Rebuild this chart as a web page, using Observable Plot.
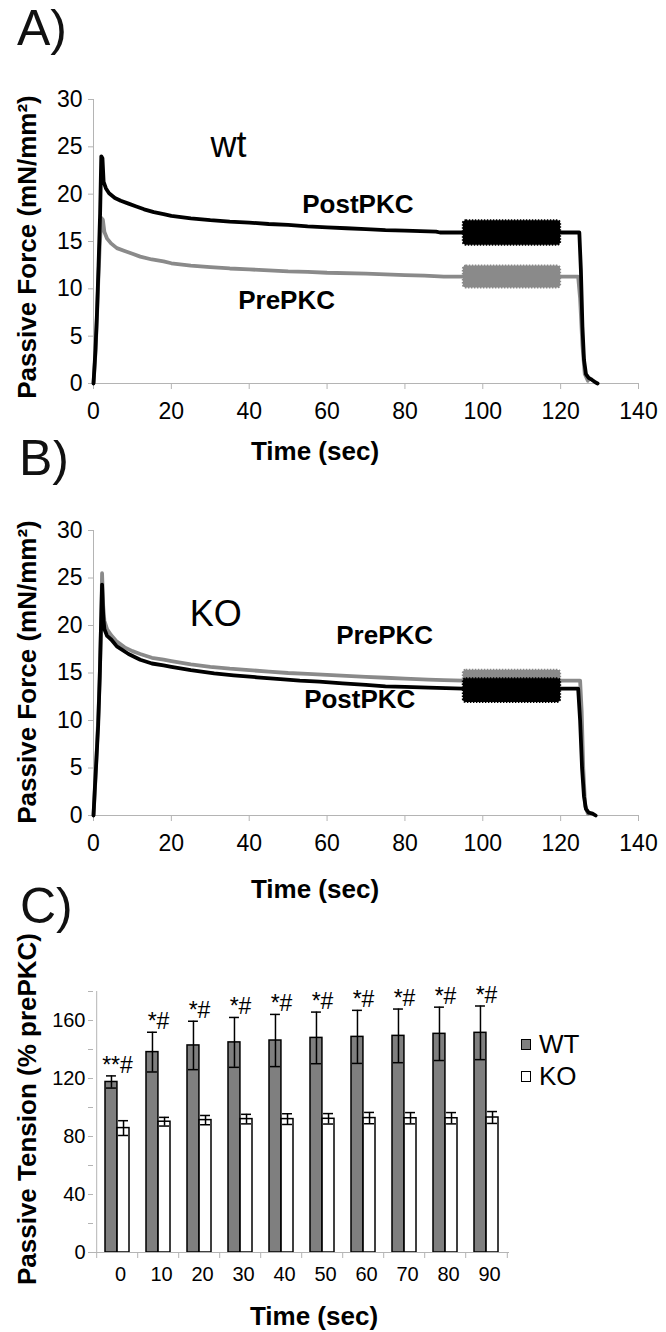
<!DOCTYPE html>
<html>
<head>
<meta charset="utf-8">
<script src="https://cdn.jsdelivr.net/npm/d3@7"></script>
<script src="https://cdn.jsdelivr.net/npm/@observablehq/plot@0.6"></script>
<style>
  body { margin: 0; background: #fff; font-family: "Liberation Sans", Arial, sans-serif; }
  #page { position: relative; width: 666px; height: 1332px; overflow: hidden; background: #fff; }
  .panel { position: absolute; left: 0; }
  .plabel { position: absolute; font-size: 50px; line-height: 1.12; color: #111; }
  .xt { position: absolute; font-weight: bold; font-size: 26px; transform: translate(-50%, -50%); white-space: nowrap; }
  .yt { position: absolute; font-weight: bold; font-size: 26px; transform: translate(-50%, -50%) rotate(-90deg); white-space: nowrap; }
  .legend { position: absolute; font-size: 26px; line-height: 32px; }
  .legend .sw { display: inline-block; width: 8px; height: 9px; border: 1px solid #000; margin-right: 8px; vertical-align: 3px; }
</style>
</head>
<body>
<div id="page">
  <div class="plabel" style="left:17px;top:0px;">A)</div>
  <div class="plabel" style="left:19px;top:430px;">B)</div>
  <div class="plabel" style="left:20px;top:878px;">C)</div>
  <div id="pa" class="panel" style="top:60px;"></div>
  <div id="pb" class="panel" style="top:490px;"></div>
  <div id="pc" class="panel" style="top:960px;"></div>
  <div class="yt" style="left:27px;top:247px;">Passive Force (mN/mm²)</div>
  <div class="xt" style="left:315px;top:451px;">Time (sec)</div>
  <div class="yt" style="left:27px;top:672px;">Passive Force (mN/mm²)</div>
  <div class="xt" style="left:315px;top:889px;">Time (sec)</div>
  <div class="yt" style="left:27px;top:1109px;">Passive Tension (% prePKC)</div>
  <div class="xt" style="left:314px;top:1316px;">Time (sec)</div>
  <div class="legend" style="left:521px;top:1028px;">
    <div><span class="sw" style="background:#7f7f7f"></span>WT</div>
    <div><span class="sw" style="background:#fff"></span>KO</div>
  </div>
</div>
<script>
// ---------- Data: panels A and B (time in s, force in mN/mm²) ----------
const timeTicks = [0, 20, 40, 60, 80, 100, 120, 140];
const forceTicks = [0, 5, 10, 15, 20, 25, 30];

// wt, PostPKC (black)
const wtPost = [[0,0],[0.5,3.5],[0.9,7.5],[1.3,12.5],[1.7,18],[2.0,24],[2.3,23.8],[2.6,21.3],[3.2,20.6],[4,20.1],[5.5,19.6],[7,19.3],[9,19.0],[11,18.7],[13,18.4],[15.5,18.1],[18,17.9],[20,17.7],[25,17.45],[30,17.25],[35,17.1],[40,17.0],[45,16.85],[50,16.75],[55,16.6],[60,16.5],[65,16.4],[70,16.3],[75,16.2],[80,16.15],[88,16.05],[89,15.95],[124.8,15.95],[125.2,12],[125.6,6],[126,2.5],[126.5,1.0],[127.2,0.6],[128,0.4],[129,0.1],[129.5,0]];
// wt, PrePKC (grey)
const wtPre = [[0,0],[0.4,2.5],[0.8,6],[1.2,10.5],[1.6,14.5],[2.0,17.5],[2.4,17.3],[2.8,16],[3.5,15.3],[4.5,14.8],[6,14.3],[8,14.0],[10,13.7],[12,13.4],[15,13.1],[18,12.9],[20,12.7],[25,12.45],[30,12.3],[35,12.15],[40,12.05],[45,11.95],[50,11.85],[55,11.8],[60,11.7],[70,11.6],[80,11.45],[85,11.4],[90,11.3],[124.5,11.3],[125,9],[125.6,4],[126.2,1],[127,0.3]];
// KO, PrePKC (grey)
const koPre = [[0,0],[0.4,3],[0.8,6.5],[1.3,11],[1.7,16],[2.0,21],[2.2,25.5],[2.5,22],[2.8,20.5],[3.5,19.6],[4.5,19.0],[6,18.3],[8,17.7],[10,17.3],[12,17.0],[15,16.6],[18,16.4],[20,16.25],[25,15.9],[30,15.65],[35,15.45],[40,15.3],[45,15.15],[50,15.0],[55,14.9],[60,14.8],[65,14.7],[70,14.6],[75,14.5],[80,14.4],[86,14.3],[90,14.25],[95,14.2],[125,14.2],[125.4,11],[125.8,5],[126.3,1],[127,0.2]];
// KO, PostPKC (black)
const koPost = [[0,0],[0.3,2.5],[0.7,5.5],[1.2,9.5],[1.6,14.5],[1.9,19.5],[2.2,24.3],[2.5,21],[2.8,19.6],[3.5,18.9],[4.6,18.5],[6,17.8],[9,17.0],[12,16.4],[15,16.0],[18,15.8],[20,15.65],[25,15.3],[31,14.95],[36,14.75],[42,14.55],[48,14.35],[53,14.2],[58,14.1],[64,13.9],[70,13.75],[75,13.6],[80,13.55],[86,13.45],[95,13.35],[124.5,13.35],[125,10],[125.5,5],[126,2],[126.5,0.7],[127.2,0.3],[128.2,0.2],[129,0]];

// Dense oscillation window (s) and its force envelope [low, high]
const oscWindow = [95, 120];
const wtPostOsc = [14.6, 17.2];
const wtPreOsc = [10.1, 12.4];
const koPreOsc = [13.3, 15.3];
const koPostOsc = [11.9, 14.4];

// in-plot labels
const notesA = [{text: "wt", t: 34.7, f: 25.1}];
const seriesNotesA = [{text: "PostPKC", t: 67.9, f: 18.9}, {text: "PrePKC", t: 49.6, f: 8.8}];
const notesB = [{text: "KO", t: 31.4, f: 21.2}];
const seriesNotesB = [{text: "PrePKC", t: 74.8, f: 18.9}, {text: "PostPKC", t: 68.4, f: 12.2}];

// ---------- Data: panel C (% prePKC) ----------
const barTimes = [0, 10, 20, 30, 40, 50, 60, 70, 80, 90];
const wtMean = [117.6, 138.2, 142.8, 144.9, 146.2, 148.0, 148.7, 149.4, 150.8, 151.5];
const wtErr  = [4.2, 13.7, 16.7, 17.2, 18.0, 17.8, 18.3, 18.5, 18.4, 18.5];
const koMean = [85.8, 90.2, 91.3, 92.0, 92.0, 92.2, 92.7, 92.6, 92.6, 93.1];
const koErr  = [5.1, 3.0, 3.2, 3.3, 3.7, 3.6, 3.9, 3.9, 3.9, 4.1];
const sigMarks = ["**#", "*#", "*#", "*#", "*#", "*#", "*#", "*#", "*#", "*#"];
const tensionTicks = [0, 40, 80, 120, 160];
const tensionMinorTicks = [0, 20, 40, 60, 80, 100, 120, 140, 160, 180];

// ---------- Styles ----------
const FONT = "Liberation Sans, Arial, sans-serif";
const axisGray = "#b4b4b4";
const BLACK = "#000";
const GREY = "#8a8a8a";

function forcePlot(layers, notes, seriesNotes, mt, mb, h) {
  const marks = [
    Plot.ruleY([0], {stroke: axisGray}),
    Plot.ruleX([0], {stroke: axisGray}),
    Plot.axisY({ticks: forceTicks, tickSize: 5, tickPadding: 6, stroke: axisGray, fill: "black", label: null}),
    Plot.axisX({ticks: timeTicks, tickSize: 6, tickPadding: 13, stroke: axisGray, fill: "black", label: null})
  ];
  for (const [data, env, color] of layers) {
    marks.push(Plot.line(data, {x: d => d[0], y: d => d[1], stroke: color, strokeWidth: 3.8, strokeLinejoin: "round", strokeLinecap: "round"}));
    marks.push(Plot.rect([env], {x1: () => oscWindow[0], x2: () => oscWindow[1], y1: d => d[0], y2: d => d[1],
      fill: color, stroke: color, strokeWidth: 2, strokeDasharray: "1.5,1.5", rx: 3}));
  }
  marks.push(Plot.text(notes, {x: "t", y: "f", text: "text", fontSize: 36, fill: "black"}));
  marks.push(Plot.text(seriesNotes, {x: "t", y: "f", text: "text", fontSize: 26, fontWeight: "bold", fill: "black"}));
  return Plot.plot({
    width: 666, height: h,
    marginLeft: 93, marginRight: 28, marginTop: mt, marginBottom: mb,
    style: {fontFamily: FONT, fontSize: "23px", background: "white", color: "black"},
    x: {domain: [0, 140]},
    y: {domain: [0, 30]},
    marks
  });
}

document.getElementById("pa").append(
  forcePlot([[wtPre, wtPreOsc, GREY], [wtPost, wtPostOsc, BLACK]], notesA, seriesNotesA, 39, 57, 380)
);
document.getElementById("pb").append(
  forcePlot([[koPre, koPreOsc, GREY], [koPost, koPostOsc, BLACK]], notesB, seriesNotesB, 40, 55, 380)
);

// ---------- Panel C ----------
const rows = barTimes.map((t, i) => ({
  time: t, wt: wtMean[i], wtLo: wtMean[i] - wtErr[i], wtHi: wtMean[i] + wtErr[i],
  ko: koMean[i], koLo: koMean[i] - koErr[i], koHi: koMean[i] + koErr[i], sig: sigMarks[i]
}));
const cW = 666, cML = 93, cMR = 157;
const step = (cW - cML - cMR) / barTimes.length;
const padIn = 0.42;
const bw = step * (1 - padIn);
const half = bw / 2;

const pc = Plot.plot({
  width: cW, height: 340,
  marginLeft: cML, marginRight: cMR, marginTop: 31, marginBottom: 48,
  style: {fontFamily: FONT, fontSize: "20px", background: "white", color: "black"},
  x: {type: "band", domain: barTimes, paddingInner: padIn, paddingOuter: padIn / 2},
  y: {domain: [0, 180]},
  marks: [
    Plot.ruleX([barTimes[0]], {dx: -step / 2, stroke: axisGray}),
    Plot.axisY({ticks: tensionMinorTicks, tickSize: 5, stroke: axisGray, fill: "none", label: null}),
    Plot.axisY({ticks: tensionTicks, tickSize: 0, tickPadding: 8, fill: "black", label: null}),
    Plot.axisX({tickSize: 6, stroke: axisGray, fill: "none", dx: -step / 2, label: null}),
    Plot.axisX([barTimes[barTimes.length - 1]], {tickSize: 6, stroke: axisGray, fill: "none", dx: step / 2, label: null}),
    Plot.axisX({tickSize: 0, tickPadding: 14, fill: "black", dx: 3, label: null}),
    Plot.barY(rows, {x: "time", y: "wt", fill: "#7f7f7f", stroke: "black", strokeWidth: 1.5, insetRight: half}),
    Plot.barY(rows, {x: "time", y: "ko", fill: "white", stroke: "black", strokeWidth: 1.5, insetLeft: half}),
    Plot.ruleY([0], {stroke: axisGray}),
    Plot.ruleX(rows, {x: "time", y1: "wtLo", y2: "wtHi", dx: -half / 2, stroke: "black", strokeWidth: 1.5}),
    Plot.ruleX(rows, {x: "time", y1: "koLo", y2: "koHi", dx: half / 2, stroke: "black", strokeWidth: 1.5}),
    Plot.tickY(rows, {x: "time", y: "wtHi", insetLeft: 1, insetRight: bw - half + 1, stroke: "black", strokeWidth: 1.5}),
    Plot.tickY(rows, {x: "time", y: "wtLo", insetLeft: 1, insetRight: bw - half + 1, stroke: "black", strokeWidth: 1.5}),
    Plot.tickY(rows, {x: "time", y: "koHi", insetLeft: half + 1, insetRight: 1, stroke: "black", strokeWidth: 1.5}),
    Plot.tickY(rows, {x: "time", y: "koLo", insetLeft: half + 1, insetRight: 1, stroke: "black", strokeWidth: 1.5}),
    Plot.text(rows, {x: "time", y: "wtHi", text: "sig", lineAnchor: "bottom", dy: -3, fontSize: 23, fill: "black"})
  ]
});
document.getElementById("pc").append(pc);
</script>
</body>
</html>
